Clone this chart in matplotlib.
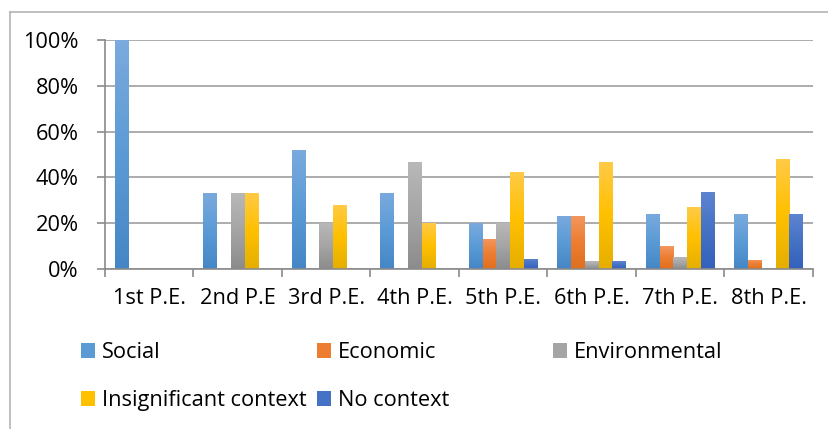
import numpy as np
import matplotlib
matplotlib.use("Agg")
import matplotlib.pyplot as plt
from matplotlib.colors import LinearSegmentedColormap
from matplotlib.patches import Rectangle
from matplotlib.lines import Line2D

plt.rcParams['font.family'] = ['Open Sans', 'DejaVu Sans']

categories = ['1st P.E.', '2nd P.E', '3rd P.E.', '4th P.E.', '5th P.E.', '6th P.E.', '7th P.E.', '8th P.E.']
social = [100, 33.3, 52, 33.3, 20, 23.3, 24.1, 24]
economic = [0, 0, 0, 0, 13.3, 23.3, 10, 4]
environmental = [0, 33.3, 20, 46.7, 20, 3.3, 5.2, 0]
insignificant = [0, 33.3, 28, 20, 42.2, 46.7, 26.9, 48]
no_context = [0, 0, 0, 0, 4.4, 3.3, 33.8, 24]
series_names = ['Social', 'Economic', 'Environmental', 'Insignificant context', 'No context']

series = [social, economic, environmental, insignificant, no_context]
# (top, base, bottom) colours for the gradient fill
grads = [('#7AAADE', '#5B9BD5', '#4586C6'),
         ('#F3975F', '#ED7D31', '#E0701E'),
         ('#B8B8B8', '#A5A5A5', '#8C8C8C'),
         ('#FFCA45', '#FFC000', '#E5AE00'),
         ('#5E84D0', '#4472C4', '#3461BB')]

fig = plt.figure(figsize=(8.29, 4.29), dpi=100)
ax = fig.add_axes([105/829, 1-269/429, (813-105)/829, (269-40)/429])

x = np.arange(len(categories))
w = 0.156
grad_img = np.linspace(1, 0, 64).reshape(-1, 1)
handles = []
for i, (vals, g) in enumerate(zip(series, grads)):
    bars = ax.bar(x + (i-2)*w, vals, w, color=g[1], linewidth=0, zorder=3)
    cmap = LinearSegmentedColormap.from_list('g%d' % i, [g[2], g[1], g[0]])
    for p in bars.patches:
        if p.get_height() <= 0:
            continue
        x0 = p.get_x()
        im = ax.imshow(grad_img, extent=[x0, x0 + p.get_width(), 0, p.get_height()],
                       cmap=cmap, aspect='auto', zorder=4, interpolation='bilinear')
        im.set_clip_path(p)
    handles.append(Rectangle((0, 0), 1, 1, facecolor=g[1], edgecolor='none'))

ax.set_xlim(-0.5, len(categories)-0.5)
ax.set_ylim(0, 100)
ax.set_yticks(np.arange(0, 101, 20))
ax.set_yticklabels(['%d%%' % v for v in range(0, 101, 20)])
ax.set_xticks(x)
ax.set_xticklabels(categories)
ax.set_xticks(np.arange(-0.5, len(categories), 1), minor=True)
ax.tick_params(axis='x', which='major', length=0, pad=14, labelsize=15.7)
ax.tick_params(axis='x', which='minor', length=6, width=1.2, color='#8a8a8a')
ax.tick_params(axis='y', length=6, width=1.2, color='#8a8a8a', pad=13, labelsize=15.7)
ax.grid(axis='y', color='#a6a6a6', linewidth=1.3, zorder=0)
for s in ['top', 'right']:
    ax.spines[s].set_visible(False)
for s in ['left', 'bottom']:
    ax.spines[s].set_color('#8a8a8a')
    ax.spines[s].set_linewidth(1.2)
    ax.spines[s].set_zorder(5)

# legend in three columns like the original
cols = [[0, 3], [1, 4], [2]]
xs = [81, 317, 553]
for c, xpix in zip(cols, xs):
    leg = fig.legend([handles[k] for k in c], [series_names[k] for k in c],
                     loc='upper left', bbox_to_anchor=(xpix/829, 1-342/429),
                     frameon=False, fontsize=15.7, handlelength=0.65, handleheight=0.65,
                     handletextpad=0.3, labelspacing=1.25, borderpad=0, borderaxespad=0)

# outer chart frame
fig.add_artist(Line2D([10/829, 10/829], [0, 1-12/429], transform=fig.transFigure,
                      color='#b4b4b4', linewidth=1.2))
fig.add_artist(Line2D([10/829, 1], [1-12/429, 1-12/429], transform=fig.transFigure,
                      color='#b4b4b4', linewidth=1.2))

fig.savefig('out.png', dpi=100)
